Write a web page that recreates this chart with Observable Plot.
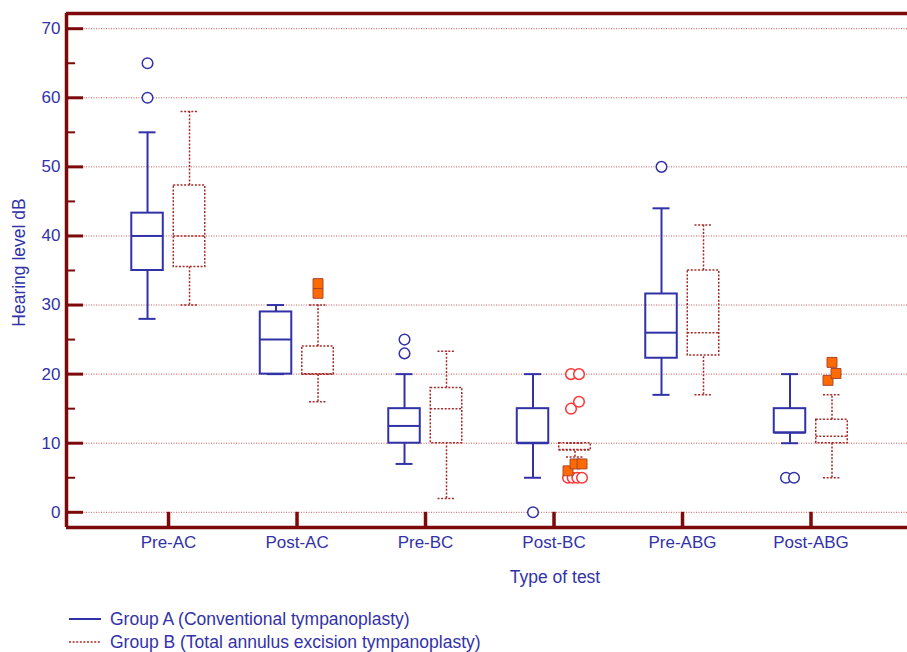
<!DOCTYPE html>
<html><head><meta charset="utf-8">
<script src="https://cdn.jsdelivr.net/npm/d3@7"></script>
<script src="https://cdn.jsdelivr.net/npm/@observablehq/plot@0.6"></script>
<style>
body{margin:0;background:#fff;font-family:"Liberation Sans",Arial,Helvetica,sans-serif;}
#wrap{position:relative;width:907px;height:652px;overflow:hidden;}
#legend{position:absolute;left:69px;top:607px;font-size:17.5px;line-height:20px;color:#3232a8;}
.row{display:flex;align-items:center;height:23px;white-space:nowrap;}
.row svg{margin-right:9px;}
</style></head><body><div id="wrap"><div id="chart"></div><div id="legend"></div></div>
<script>
// ---- data ----
const categories = ["Pre-AC","Post-AC","Pre-BC","Post-BC","Pre-ABG","Post-ABG"];
const yTicks = [0,10,20,30,40,50,60,70];
const groupNames = ["Group A (Conventional tympanoplasty)", "Group B (Total annulus excision tympanoplasty)"];
// Group A (conventional)
const aLow  = [28, 20,  7,  5, 17, 10];
const aQ1   = [35, 20, 10, 10, 22.3, 11.5];
const aMed  = [40, 25, 12.5, 10, 26, 11.5];
const aQ3   = [43.3, 29, 15, 15, 31.6, 15];
const aHigh = [55, 30, 20, 20, 44, 20];
// Group B (total annulus excision)
const bLow  = [30, 16,  2,  8, 17, 5];
const bQ1   = [35.5, 20, 10, 9, 22.7, 10];
const bMed  = [40, 20, 15, 9, 26, 11];
const bQ3   = [47.3, 24, 18, 10, 35, 13.4];
const bHigh = [58, 30, 23.3, 10, 41.6, 17];
// outliers
const outA = [["Pre-AC",60],["Pre-AC",65],["Pre-BC",23],["Pre-BC",25],["Post-BC",0],["Pre-ABG",50],["Post-ABG",5],["Post-ABG",5]];
const outBcircle = [["Post-BC",20],["Post-BC",20],["Post-BC",16],["Post-BC",15],["Post-BC",5],["Post-BC",5],["Post-BC",5],["Post-BC",5]];
const outBsquare = [["Post-AC",31.7],["Post-AC",33.1],["Post-BC",7],["Post-BC",7],["Post-BC",6],["Post-ABG",19.1],["Post-ABG",20.1],["Post-ABG",21.7]];

// ---- style ----
const blue = "#3232a8", dred = "#a52a2a", grid = "#c85a5a", axisC = "#7d0a0a", brightRed = "#ff3535", orange = "#ff6a00";
const W = 907, H = 595, mL = 66, mR = 0, mT = 13, mB = 68;
const xMin = -0.794, xMax = 5.751, yMin = -2.2, yMax = 72.2;
const ppu = (W - mL - mR) / (xMax - xMin);
const u = px => px / ppu;
const off = u(21), half = u(15.75), cap = u(8.5);

function boxes(low,q1,med,q3,high,sign){
  return categories.map((c,i)=>({c: i + sign*off, low: low[i], q1: q1[i], med: med[i], q3: q3[i], high: high[i]}));
}
const boxA = boxes(aLow,aQ1,aMed,aQ3,aHigh,-1);
const boxB = boxes(bLow,bQ1,bMed,bQ3,bHigh,+1);

function place(list, sign){
  const out = [];
  for (const [cat, items] of d3.group(list, d=>d[0])){
    const vals = items.map(d=>d[1]).sort((a,b)=>a-b);
    const clusters = []; let cur = [vals[0]];
    for (let k=1;k<vals.length;k++){ if (vals[k]-vals[k-1] <= 1.1) cur.push(vals[k]); else {clusters.push(cur); cur=[vals[k]];} }
    clusters.push(cur);
    const ci = categories.indexOf(cat);
    for (const cl of clusters){
      const n = cl.length, s = n<=2 ? 8 : 14/(n-1);
      cl.forEach((v,k)=>out.push({x: ci + sign*off + u((k-(n-1)/2)*s), v}));
    }
  }
  return out;
}
const dotsA = place(outA,-1), dotsBc = place(outBcircle,+1), dotsBs = place(outBsquare,+1);

function boxMarks(data, stroke, sw, dash){
  const o = {stroke, strokeWidth: sw, strokeDasharray: dash};
  return [
    Plot.ruleX(data, {x:"c", y1:"q3", y2:"high", ...o}),
    Plot.ruleX(data, {x:"c", y1:"low", y2:"q1", ...o}),
    Plot.ruleY(data, {y:"high", x1:d=>d.c-cap, x2:d=>d.c+cap, ...o}),
    Plot.ruleY(data, {y:"low", x1:d=>d.c-cap, x2:d=>d.c+cap, ...o}),
    Plot.rect(data, {x1:d=>d.c-half, x2:d=>d.c+half, y1:"q1", y2:"q3", fill:"none", ...o}),
    Plot.ruleY(data, {y:"med", x1:d=>d.c-half, x2:d=>d.c+half, ...o})
  ];
}

const chart = Plot.plot({
  width: W, height: H, marginLeft: mL, marginRight: mR, marginTop: mT, marginBottom: mB,
  style: {fontFamily: "'Liberation Sans', Arial, Helvetica, sans-serif", color: blue, background: "white", overflow: "visible"},
  x: {type: "linear", domain: [xMin, xMax]},
  y: {domain: [yMin, yMax]},
  marks: [
    Plot.ruleY(yTicks, {x1: xMin, x2: xMax, stroke: grid, strokeWidth: 1, strokeDasharray: "1,1.5"}),
    ...boxMarks(boxB, dred, 1.5, "2,1.6"),
    ...boxMarks(boxA, blue, 2, null),
    Plot.dot(dotsA, {x:"x", y:"v", r:5.3, stroke: blue, strokeWidth:1.5, fill:"white"}),
    Plot.dot(dotsBc, {x:"x", y:"v", r:5.3, stroke: brightRed, strokeWidth:1.5, fill:"white"}),
    Plot.dot(dotsBs, {x:"x", y:"v", r:5.6, symbol:"square", fill: orange, stroke:"#a8452a", strokeWidth:1}),
    // frame & ticks
    Plot.ruleY(yTicks, {x1: xMin, x2: xMin + u(17), stroke: axisC, strokeWidth: 3}),
    Plot.ruleY(d3.range(5, 70, 10), {x1: xMin, x2: xMin + u(9), stroke: axisC, strokeWidth: 2}),
    Plot.ruleX(d3.range(categories.length), {y1: yMin, y2: 0, stroke: axisC, strokeWidth: 3.5}),
    Plot.ruleY([yMax], {stroke: axisC, strokeWidth: 3.5}),
    Plot.ruleY([yMin], {stroke: axisC, strokeWidth: 3.5}),
    Plot.ruleX([xMin], {stroke: axisC, strokeWidth: 3.5}),
    Plot.axisY(yTicks, {tickSize: 0, tickPadding: 6, fontSize: 17, label: null}),
    Plot.axisX(d3.range(categories.length), {tickSize: 0, tickPadding: 8, fontSize: 17, label: null, tickFormat: i => categories[i]}),
    Plot.text(["Hearing level dB"], {frameAnchor: "left", textAnchor: "middle", lineAnchor: "middle", rotate: -90, dx: -47, dy: -8, fontSize: 17.5, fill: blue}),
    Plot.text(["Type of test"], {frameAnchor: "bottom", textAnchor: "middle", lineAnchor: "middle", dx: 68, dy: 50, fontSize: 17.5, fill: blue})
  ]
});
document.getElementById("chart").appendChild(chart);

const legend = document.getElementById("legend");
const styles = [{stroke: blue, sw: 2, dash: ""}, {stroke: dred, sw: 1.5, dash: "2,1.6"}];
groupNames.forEach((name, k) => {
  const row = document.createElement("div"); row.className = "row";
  const s = styles[k];
  row.innerHTML = `<svg width="32" height="6"><line x1="0" x2="32" y1="3" y2="3" stroke="${s.stroke}" stroke-width="${s.sw}" ${s.dash ? `stroke-dasharray="${s.dash}"` : ""}/></svg><span>${name}</span>`;
  legend.appendChild(row);
});
</script>
</body></html>
